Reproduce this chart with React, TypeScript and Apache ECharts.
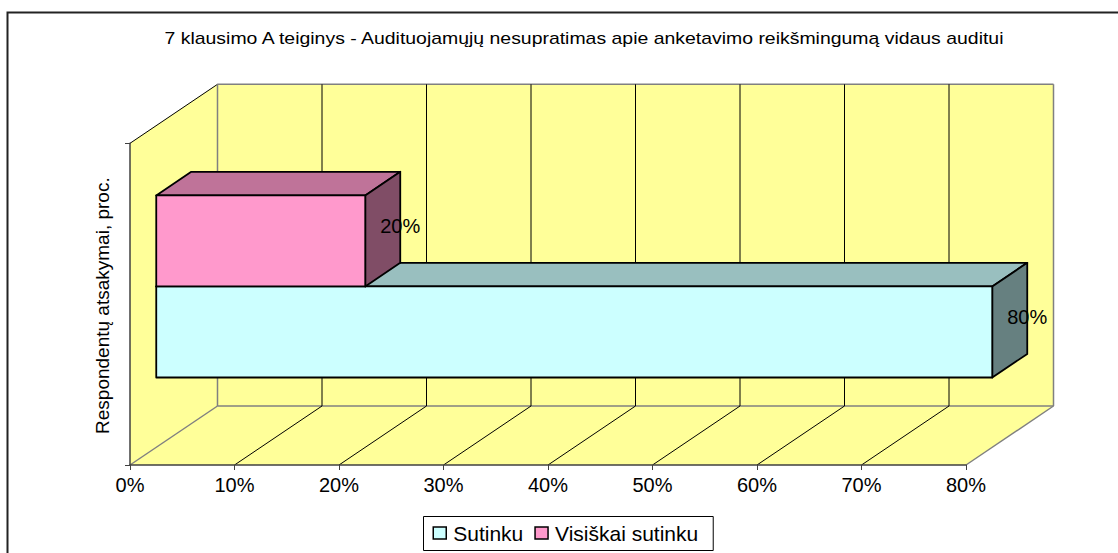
import React, { useEffect, useRef } from "react";
import * as echarts from "echarts";

const titleText = "7 klausimo A teiginys - Audituojamųjų nesupratimas apie anketavimo reikšmingumą vidaus auditui";
const yAxisTitle = "Respondentų atsakymai, proc.";
const categories = [""];
const seriesNames = ["Sutinku", "Visiškai sutinku"];
const sutinkuValues = [80];
const visiskaiValues = [20];
const xTicks = [0, 10, 20, 30, 40, 50, 60, 70, 80];

const FONT = "Liberation Sans, Arial, sans-serif";
const WALL = "#FFFF99";
const GREY = "#808080";
const DEPTH_X = 87.5;
const DEPTH_Y = -59;
const BAR_START = 0.3;
const BAR_END = 0.7;
const BAR_SHARE = 0.283;

const wallItem = (_p: any, api: any) => {
  const a = api.coord([0, 0]);
  const b = api.coord([80, 0]);
  const band = api.size([0, 1])[1];
  const x0 = a[0], x1 = b[0];
  const top = a[1] - band / 2, bot = a[1] + band / 2;
  const dx = DEPTH_X, dy = DEPTH_Y;
  const fill = { fill: WALL, stroke: "none" };
  const line = (x1_: number, y1_: number, x2_: number, y2_: number, stroke: string, lineWidth: number) => ({
    type: "line", shape: { x1: x1_, y1: y1_, x2: x2_, y2: y2_ }, style: { stroke, lineWidth },
  });
  return {
    type: "group",
    children: [
      { type: "polygon", shape: { points: [[x0, top], [x0 + dx, top + dy], [x0 + dx, bot + dy], [x0, bot]] }, style: fill },
      { type: "polygon", shape: { points: [[x0 + dx, top + dy], [x1 + dx, top + dy], [x1 + dx, bot + dy], [x0 + dx, bot + dy]] }, style: fill },
      { type: "polygon", shape: { points: [[x0, bot], [x1, bot], [x1 + dx, bot + dy], [x0 + dx, bot + dy]] }, style: fill },
      line(x0 + dx, top + dy, x1 + dx, top + dy, GREY, 1.5),
      line(x0 + dx, bot + dy, x1 + dx, bot + dy, GREY, 1.5),
      line(x0, top, x0 + dx, top + dy, "#000", 1),
    ],
  };
};

const gridItem = (_p: any, api: any) => {
  const v = api.value(0);
  const c = api.coord([v, 0]);
  const band = api.size([0, 1])[1];
  const top = c[1] - band / 2, bot = c[1] + band / 2;
  const edge = v === xTicks[0] || v === xTicks[xTicks.length - 1];
  const style = { stroke: edge ? GREY : "#000", lineWidth: edge ? 1.5 : 1 };
  return {
    type: "group",
    children: [
      { type: "line", shape: { x1: c[0] + DEPTH_X, y1: top + DEPTH_Y, x2: c[0] + DEPTH_X, y2: bot + DEPTH_Y }, style },
      { type: "line", shape: { x1: c[0], y1: bot, x2: c[0] + DEPTH_X, y2: bot + DEPTH_Y }, style },
    ],
  };
};

const barItem = (seriesPos: number, front: string, topFace: string, sideFace: string) => (_p: any, api: any) => {
  const v = api.value(0);
  const o = api.coord([0, 0]);
  const e = api.coord([v, 0]);
  const band = api.size([0, 1])[1];
  const h = band * BAR_SHARE;
  const sx = DEPTH_X * BAR_START, sy = DEPTH_Y * BAR_START;
  const ddx = DEPTH_X * (BAR_END - BAR_START), ddy = DEPTH_Y * (BAR_END - BAR_START);
  const xl = o[0] + sx, xr = e[0] + sx;
  const yt = o[1] + sy + (seriesPos === 0 ? 0 : -h);
  const yb = yt + h;
  const edge = { stroke: "#000", lineWidth: 1.8, lineJoin: "round" };
  return {
    type: "group",
    children: [
      { type: "polygon", shape: { points: [[xl, yt], [xr, yt], [xr + ddx, yt + ddy], [xl + ddx, yt + ddy]] }, style: { fill: topFace, ...edge } },
      { type: "polygon", shape: { points: [[xr, yt], [xr + ddx, yt + ddy], [xr + ddx, yb + ddy], [xr, yb]] }, style: { fill: sideFace, ...edge } },
      { type: "rect", shape: { x: xl, y: yt, width: xr - xl, height: h }, style: { fill: front, ...edge } },
      {
        type: "text",
        style: {
          text: v + "%", x: xr + ddx, y: (yt + yb) / 2 - 14.5, fill: "#000",
          fontFamily: FONT, fontSize: 20, align: "center", verticalAlign: "middle",
        },
      },
    ],
  };
};

export default function App() {
  const ref = useRef<HTMLDivElement>(null);
  useEffect(() => {
    document.body.style.margin = "0";
    const chart = echarts.init(ref.current!, undefined, { renderer: "svg" });
    chart.setOption({
      animation: false,
      backgroundColor: "#fff",
      textStyle: { fontFamily: FONT },
      legend: {
        data: seriesNames, left: 423.5, top: 516.5, orient: "horizontal",
        padding: [5.5, 15, 6.5, 9], itemWidth: 13, itemHeight: 12, itemGap: 11,
        backgroundColor: "#fff", borderColor: "#000", borderWidth: 1, icon: "rect",
        itemStyle: { borderColor: "#000", borderWidth: 1.5 },
        textStyle: { fontFamily: FONT, fontSize: 21, lineHeight: 22, color: "#000", padding: [0, 0, 0, 2] },
      },
      grid: { left: 130, top: 143.3, width: 836, height: 321.7, containLabel: false },
      xAxis: {
        type: "value", min: 0, max: 80, interval: 10, z: 5,
        splitLine: { show: false },
        axisLine: { show: true, lineStyle: { color: "#404040", width: 1.5 } },
        axisTick: { show: true, length: 5, lineStyle: { color: "#404040" } },
        axisLabel: { formatter: "{value}%", fontFamily: FONT, fontSize: 20, color: "#000", margin: 10 },
      },
      yAxis: {
        type: "category", data: categories, z: 5,
        name: yAxisTitle, nameLocation: "middle", nameRotate: 90, nameGap: 18,
        nameTextStyle: { fontFamily: FONT, fontSize: 19, color: "#000", padding: [0, 3, 0, 0] },
        axisLine: { show: true, lineStyle: { color: "#404040", width: 1.5 } },
        axisTick: { show: true, length: 5, lineStyle: { color: "#404040" } },
        axisLabel: { show: false },
        splitLine: { show: false },
      },
      graphic: [
        {
          type: "polyline", silent: true,
          shape: { points: [[7.5, 553], [7.5, 12.5], [1118, 12.5]] },
          style: { stroke: "#222", lineWidth: 2, fill: "none" },
        },
        {
          type: "text", silent: true, x: 584, y: 38, scaleX: 1.143,
          style: {
            text: titleText, fontFamily: FONT, fontSize: 17, fill: "#000",
            align: "center", verticalAlign: "middle",
          },
        },
      ],
      series: [
        { type: "custom", name: "walls", z: 1, silent: true, renderItem: wallItem, data: [[0, 0]], encode: { x: 0, y: 1 } },
        { type: "custom", name: "gridlines", z: 1.5, silent: true, renderItem: gridItem, data: xTicks.map((t) => [t, 0]), encode: { x: 0, y: 1 } },
        {
          type: "custom", name: seriesNames[0], z: 2, silent: true, itemStyle: { color: "#CCFFFF" },
          renderItem: barItem(0, "#CCFFFF", "#99BFBF", "#668080"),
          data: sutinkuValues.map((v) => [v, 0]), encode: { x: 0, y: 1 },
        },
        {
          type: "custom", name: seriesNames[1], z: 3, silent: true, itemStyle: { color: "#FF99CC" },
          renderItem: barItem(1, "#FF99CC", "#BF7399", "#804D66"),
          data: visiskaiValues.map((v) => [v, 0]), encode: { x: 0, y: 1 },
        },
      ],
    });
    return () => chart.dispose();
  }, []);
  return <div ref={ref} style={{ position: "fixed", left: 0, top: 0, width: 1118, height: 553 }} />;
}
